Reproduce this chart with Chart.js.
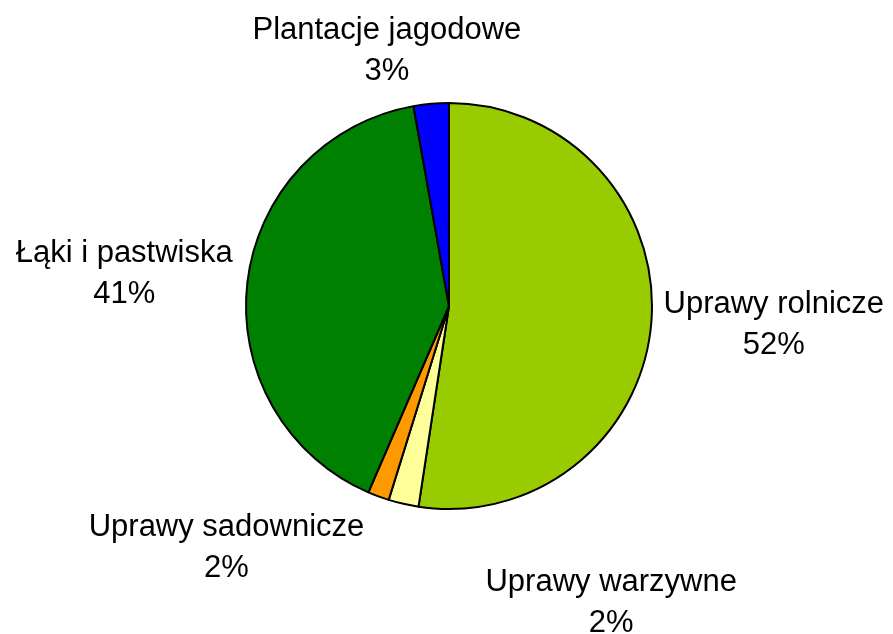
<!DOCTYPE html>
<html>
<head>
<meta charset="utf-8">
<script src="https://cdn.jsdelivr.net/npm/chart.js@4/dist/chart.umd.min.js"></script>
<style>
  html, body { margin: 0; padding: 0; background: #fff; }
  #wrap { width: 893px; height: 634px; }
</style>
</head>
<body>
<div id="wrap"><canvas id="grafica" width="893" height="634"></canvas></div>
<script>
// dane wykresu
const kategorie = ["Uprawy rolnicze", "Uprawy warzywne", "Uprawy sadownicze", "Łąki i pastwiska", "Plantacje jagodowe"];
const udzialy = [52.4, 2.4, 1.7, 40.7, 2.8];
const etykietyProcent = ["52%", "2%", "2%", "41%", "3%"];

const kolory = ['#99CC00', '#FFFF99', '#FF9900', '#008000', '#0000FF'];
// polozenie etykiet wzgledem srodka kola, w jednostkach promienia (linia bazowa 1. wiersza)
const przesuniecia = [[1.600, 0.034], [0.799, 1.402], [-1.096, 1.132], [-1.600, -0.216], [-0.306, -1.314]];

const etykietyPlugin = {
    id: 'etykiety',
    afterDraw(chart) {
        const c = chart.ctx;
        const arcs = chart.getDatasetMeta(0).data;
        c.save();
        c.font = '31px "Liberation Sans", Arial, sans-serif';
        c.fillStyle = '#000';
        c.textAlign = 'center';
        c.textBaseline = 'alphabetic';
        arcs.forEach((arc, i) => {
            const r = arc.outerRadius;
            const x = arc.x + przesuniecia[i][0] * r;
            const y = arc.y + przesuniecia[i][1] * r;
            c.fillText(kategorie[i], x, y);
            c.fillText(etykietyProcent[i], x, y + 41);
        });
        c.restore();
    }
};

const ctx = document.getElementById("grafica").getContext("2d");

new Chart(ctx, {
    type: 'pie',
    data: {
        labels: kategorie,
        datasets: [{
            data: udzialy,
            backgroundColor: kolory,
            borderColor: '#000',
            borderWidth: 2
        }]
    },
    options: {
        responsive: false,
        animation: false,
        layout: {
            padding: { top: 102, bottom: 124, left: 245, right: 240 }
        },
        plugins: {
            legend: { display: false },
            tooltip: { enabled: false }
        }
    },
    plugins: [etykietyPlugin]
});
</script>
</body>
</html>
